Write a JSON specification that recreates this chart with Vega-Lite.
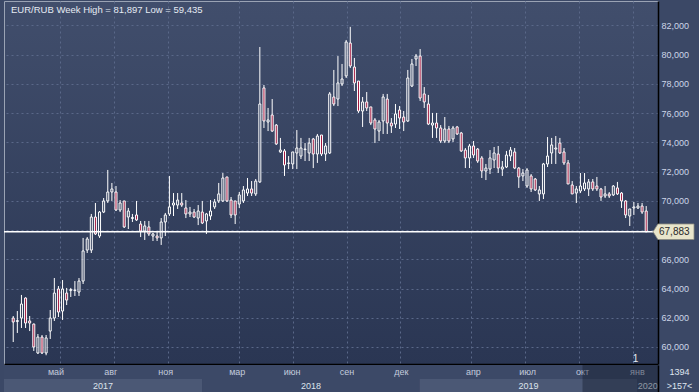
{
  "$schema": "https://vega.github.io/schema/vega-lite/v6.json",
  "background": "#3b4866",
  "padding": {"left": 2, "top": 0, "right": 2, "bottom": 0},
  "spacing": 0,
  "config": {"font": "Liberation Sans", "view": {"stroke": null}},
  "datasets": {
    "candles": [
      {"d":"2017-02-10","o":61.98,"h":62.12,"l":60.34,"c":61.71},
      {"d":"2017-02-17","o":61.74,"h":62.46,"l":60.96,"c":61.81},
      {"d":"2017-02-24","o":61.98,"h":63.56,"l":61.30,"c":62.94},
      {"d":"2017-03-03","o":63.35,"h":63.40,"l":61.30,"c":61.64},
      {"d":"2017-03-10","o":61.78,"h":62.12,"l":61.09,"c":61.64},
      {"d":"2017-03-17","o":61.57,"h":61.60,"l":59.73,"c":60.00},
      {"d":"2017-03-24","o":59.59,"h":60.89,"l":59.52,"c":60.68},
      {"d":"2017-03-31","o":60.68,"h":60.82,"l":59.52,"c":59.59},
      {"d":"2017-04-07","o":59.59,"h":60.82,"l":59.435,"c":60.62},
      {"d":"2017-04-14","o":61.09,"h":62.53,"l":60.55,"c":61.98},
      {"d":"2017-04-21","o":61.98,"h":64.72,"l":61.78,"c":63.69},
      {"d":"2017-04-28","o":63.97,"h":64.17,"l":62.05,"c":62.39},
      {"d":"2017-05-05","o":62.46,"h":64.58,"l":61.85,"c":63.97},
      {"d":"2017-05-12","o":63.69,"h":64.04,"l":62.87,"c":63.21},
      {"d":"2017-05-19","o":63.86,"h":64.04,"l":63.42,"c":63.93},
      {"d":"2017-05-26","o":63.86,"h":64.51,"l":63.49,"c":63.90},
      {"d":"2017-06-02","o":63.76,"h":64.72,"l":63.49,"c":64.51},
      {"d":"2017-06-09","o":64.51,"h":67.46,"l":64.31,"c":66.57},
      {"d":"2017-06-16","o":66.63,"h":67.52,"l":66.43,"c":67.39},
      {"d":"2017-06-23","o":66.63,"h":69.10,"l":66.43,"c":68.89},
      {"d":"2017-06-30","o":68.89,"h":69.85,"l":67.66,"c":67.73},
      {"d":"2017-07-07","o":67.59,"h":69.30,"l":67.46,"c":69.23},
      {"d":"2017-07-14","o":69.23,"h":70.19,"l":69.16,"c":69.99},
      {"d":"2017-07-21","o":69.99,"h":72.11,"l":69.85,"c":70.60},
      {"d":"2017-07-28","o":70.60,"h":71.22,"l":69.99,"c":70.81},
      {"d":"2017-08-04","o":70.60,"h":71.01,"l":69.30,"c":69.37},
      {"d":"2017-08-11","o":69.37,"h":70.05,"l":69.23,"c":69.85},
      {"d":"2017-08-18","o":69.99,"h":69.99,"l":68.14,"c":68.21},
      {"d":"2017-08-25","o":68.89,"h":69.51,"l":68.07,"c":69.30},
      {"d":"2017-09-01","o":68.79,"h":69.10,"l":68.55,"c":68.86},
      {"d":"2017-09-08","o":69.03,"h":69.99,"l":68.62,"c":68.69},
      {"d":"2017-09-15","o":68.41,"h":68.62,"l":67.52,"c":67.93},
      {"d":"2017-09-22","o":67.93,"h":68.62,"l":67.32,"c":68.28},
      {"d":"2017-09-29","o":68.21,"h":68.62,"l":67.59,"c":67.73},
      {"d":"2017-10-06","o":67.59,"h":67.80,"l":67.25,"c":67.73},
      {"d":"2017-10-13","o":67.59,"h":67.93,"l":67.25,"c":67.46},
      {"d":"2017-10-20","o":67.46,"h":68.82,"l":66.98,"c":68.55},
      {"d":"2017-10-27","o":68.55,"h":69.17,"l":67.59,"c":69.03},
      {"d":"2017-11-03","o":69.10,"h":71.70,"l":68.96,"c":69.58},
      {"d":"2017-11-10","o":69.71,"h":70.53,"l":68.96,"c":69.85},
      {"d":"2017-11-17","o":69.71,"h":70.53,"l":69.44,"c":70.05},
      {"d":"2017-11-24","o":69.85,"h":70.53,"l":69.58,"c":69.71},
      {"d":"2017-12-01","o":69.51,"h":70.05,"l":68.82,"c":69.10},
      {"d":"2017-12-08","o":69.10,"h":69.58,"l":68.89,"c":69.23},
      {"d":"2017-12-15","o":69.23,"h":69.44,"l":68.82,"c":68.89},
      {"d":"2017-12-22","o":68.82,"h":69.71,"l":68.34,"c":69.30},
      {"d":"2017-12-29","o":69.23,"h":69.99,"l":68.41,"c":68.48},
      {"d":"2018-01-05","o":68.62,"h":69.17,"l":67.73,"c":69.10},
      {"d":"2018-01-12","o":68.96,"h":70.05,"l":68.69,"c":69.30},
      {"d":"2018-01-19","o":69.58,"h":70.12,"l":69.44,"c":69.92},
      {"d":"2018-01-26","o":69.99,"h":71.22,"l":69.85,"c":70.47},
      {"d":"2018-02-02","o":69.99,"h":71.90,"l":69.92,"c":71.56},
      {"d":"2018-02-09","o":71.63,"h":71.63,"l":69.92,"c":69.99},
      {"d":"2018-02-16","o":70.05,"h":70.26,"l":68.82,"c":69.03},
      {"d":"2018-02-23","o":69.99,"h":69.99,"l":68.41,"c":69.03},
      {"d":"2018-03-02","o":69.78,"h":70.60,"l":69.51,"c":70.40},
      {"d":"2018-03-09","o":69.99,"h":71.01,"l":69.85,"c":70.74},
      {"d":"2018-03-16","o":70.53,"h":71.56,"l":70.33,"c":70.81},
      {"d":"2018-03-23","o":70.81,"h":71.35,"l":70.33,"c":70.53},
      {"d":"2018-03-30","o":70.47,"h":71.49,"l":70.33,"c":71.35},
      {"d":"2018-04-06","o":71.29,"h":80.52,"l":71.22,"c":76.62},
      {"d":"2018-04-13","o":77.72,"h":77.92,"l":74.98,"c":75.46},
      {"d":"2018-04-20","o":75.39,"h":76.35,"l":74.77,"c":75.53},
      {"d":"2018-04-27","o":75.87,"h":76.96,"l":74.71,"c":74.77},
      {"d":"2018-05-04","o":75.18,"h":75.25,"l":73.82,"c":73.89},
      {"d":"2018-05-11","o":73.34,"h":74.30,"l":73.27,"c":73.47},
      {"d":"2018-05-18","o":73.41,"h":73.54,"l":71.70,"c":72.45},
      {"d":"2018-05-25","o":72.55,"h":73.06,"l":72.17,"c":72.59},
      {"d":"2018-06-01","o":72.52,"h":73.34,"l":72.17,"c":73.34},
      {"d":"2018-06-08","o":73.27,"h":74.84,"l":72.17,"c":73.61},
      {"d":"2018-06-15","o":73.06,"h":74.30,"l":72.86,"c":73.61},
      {"d":"2018-06-22","o":73.50,"h":73.95,"l":72.72,"c":73.54},
      {"d":"2018-06-29","o":73.27,"h":74.30,"l":72.72,"c":73.95},
      {"d":"2018-07-06","o":74.23,"h":74.30,"l":72.24,"c":73.20},
      {"d":"2018-07-13","o":73.20,"h":74.57,"l":72.59,"c":74.43},
      {"d":"2018-07-20","o":74.50,"h":74.50,"l":73.06,"c":73.20},
      {"d":"2018-07-27","o":73.20,"h":73.95,"l":72.72,"c":73.75},
      {"d":"2018-08-03","o":73.27,"h":77.44,"l":73.20,"c":77.31},
      {"d":"2018-08-10","o":77.10,"h":78.95,"l":76.48,"c":76.62},
      {"d":"2018-08-17","o":76.96,"h":79.90,"l":76.48,"c":78.06},
      {"d":"2018-08-24","o":77.99,"h":79.36,"l":77.85,"c":78.33},
      {"d":"2018-08-31","o":78.54,"h":81.00,"l":78.40,"c":80.86},
      {"d":"2018-09-07","o":80.79,"h":81.897,"l":79.08,"c":79.22},
      {"d":"2018-09-14","o":79.15,"h":79.77,"l":77.51,"c":78.06},
      {"d":"2018-09-21","o":78.19,"h":78.19,"l":76.01,"c":76.14},
      {"d":"2018-09-28","o":76.14,"h":77.10,"l":75.05,"c":76.76},
      {"d":"2018-10-05","o":76.76,"h":77.44,"l":76.14,"c":76.35},
      {"d":"2018-10-12","o":76.42,"h":76.42,"l":75.18,"c":75.32},
      {"d":"2018-10-19","o":75.53,"h":75.66,"l":73.95,"c":74.91},
      {"d":"2018-10-26","o":74.77,"h":75.53,"l":74.09,"c":75.39},
      {"d":"2018-11-02","o":75.46,"h":77.31,"l":74.57,"c":77.10},
      {"d":"2018-11-09","o":76.96,"h":77.31,"l":74.57,"c":75.32},
      {"d":"2018-11-16","o":75.32,"h":75.66,"l":74.64,"c":75.12},
      {"d":"2018-11-23","o":75.25,"h":76.62,"l":74.98,"c":75.94},
      {"d":"2018-11-30","o":76.21,"h":76.48,"l":74.91,"c":75.66},
      {"d":"2018-12-07","o":75.73,"h":76.14,"l":74.77,"c":75.39},
      {"d":"2018-12-14","o":75.46,"h":78.95,"l":75.39,"c":78.40},
      {"d":"2018-12-21","o":77.85,"h":79.70,"l":77.78,"c":79.36},
      {"d":"2018-12-28","o":79.70,"h":80.04,"l":79.22,"c":79.90},
      {"d":"2019-01-04","o":79.90,"h":80.38,"l":76.83,"c":77.03},
      {"d":"2019-01-11","o":77.31,"h":77.78,"l":76.35,"c":76.76},
      {"d":"2019-01-18","o":76.62,"h":77.24,"l":75.18,"c":75.25},
      {"d":"2019-01-25","o":75.18,"h":76.01,"l":74.30,"c":75.32},
      {"d":"2019-02-01","o":75.32,"h":76.01,"l":74.30,"c":74.98},
      {"d":"2019-02-08","o":74.98,"h":75.18,"l":73.95,"c":74.09},
      {"d":"2019-02-15","o":74.09,"h":75.73,"l":73.95,"c":74.91},
      {"d":"2019-02-22","o":74.91,"h":75.12,"l":73.95,"c":74.09},
      {"d":"2019-03-01","o":74.23,"h":75.12,"l":74.02,"c":74.98},
      {"d":"2019-03-08","o":75.05,"h":75.12,"l":74.50,"c":74.57},
      {"d":"2019-03-15","o":74.64,"h":74.71,"l":73.34,"c":73.41},
      {"d":"2019-03-22","o":73.47,"h":73.61,"l":72.24,"c":72.93},
      {"d":"2019-03-29","o":72.93,"h":73.89,"l":72.24,"c":73.75},
      {"d":"2019-04-05","o":73.75,"h":74.09,"l":72.93,"c":73.13},
      {"d":"2019-04-12","o":73.54,"h":73.61,"l":72.59,"c":72.72},
      {"d":"2019-04-19","o":72.93,"h":73.06,"l":71.56,"c":72.04},
      {"d":"2019-04-26","o":72.04,"h":72.52,"l":71.42,"c":72.24},
      {"d":"2019-05-03","o":72.17,"h":73.47,"l":71.83,"c":72.93},
      {"d":"2019-05-10","o":72.79,"h":73.68,"l":72.24,"c":73.27},
      {"d":"2019-05-17","o":73.20,"h":73.75,"l":71.90,"c":72.24},
      {"d":"2019-05-24","o":72.17,"h":72.72,"l":71.70,"c":72.31},
      {"d":"2019-05-31","o":72.31,"h":73.41,"l":72.24,"c":73.13},
      {"d":"2019-06-07","o":73.06,"h":73.68,"l":72.72,"c":73.47},
      {"d":"2019-06-14","o":73.34,"h":73.61,"l":72.17,"c":72.24},
      {"d":"2019-06-21","o":72.24,"h":72.31,"l":70.88,"c":71.63},
      {"d":"2019-06-28","o":71.70,"h":72.17,"l":71.35,"c":71.90},
      {"d":"2019-07-05","o":71.01,"h":72.24,"l":70.88,"c":72.11},
      {"d":"2019-07-12","o":71.70,"h":71.83,"l":70.60,"c":70.81},
      {"d":"2019-07-19","o":71.49,"h":71.56,"l":70.67,"c":70.74},
      {"d":"2019-07-26","o":70.47,"h":71.01,"l":69.99,"c":70.74},
      {"d":"2019-08-02","o":70.47,"h":72.59,"l":70.12,"c":72.52},
      {"d":"2019-08-09","o":72.52,"h":74.36,"l":72.31,"c":73.06},
      {"d":"2019-08-16","o":73.27,"h":74.30,"l":72.52,"c":73.82},
      {"d":"2019-08-23","o":73.54,"h":74.43,"l":72.52,"c":73.61},
      {"d":"2019-08-30","o":73.95,"h":74.30,"l":73.20,"c":73.27},
      {"d":"2019-09-06","o":73.34,"h":73.61,"l":72.45,"c":72.59},
      {"d":"2019-09-13","o":72.59,"h":72.79,"l":71.15,"c":71.15},
      {"d":"2019-09-20","o":71.08,"h":71.35,"l":70.47,"c":70.47},
      {"d":"2019-09-27","o":70.53,"h":71.01,"l":69.85,"c":70.81},
      {"d":"2019-10-04","o":70.67,"h":71.90,"l":70.53,"c":71.01},
      {"d":"2019-10-11","o":70.81,"h":71.90,"l":70.67,"c":71.22},
      {"d":"2019-10-18","o":70.81,"h":71.49,"l":70.33,"c":71.29},
      {"d":"2019-10-25","o":71.29,"h":71.49,"l":70.67,"c":70.81},
      {"d":"2019-11-01","o":71.01,"h":71.63,"l":70.67,"c":70.81},
      {"d":"2019-11-08","o":70.81,"h":70.88,"l":69.99,"c":70.26},
      {"d":"2019-11-15","o":70.33,"h":71.01,"l":70.19,"c":70.47},
      {"d":"2019-11-22","o":70.47,"h":70.60,"l":70.19,"c":70.33},
      {"d":"2019-11-29","o":70.40,"h":71.08,"l":70.33,"c":71.01},
      {"d":"2019-12-06","o":70.88,"h":71.29,"l":70.40,"c":70.47},
      {"d":"2019-12-13","o":70.53,"h":70.60,"l":69.51,"c":69.99},
      {"d":"2019-12-20","o":69.99,"h":70.05,"l":68.82,"c":69.03},
      {"d":"2019-12-27","o":68.96,"h":69.44,"l":68.28,"c":69.44},
      {"d":"2020-01-03","o":69.51,"h":69.92,"l":69.03,"c":69.58},
      {"d":"2020-01-10","o":69.51,"h":69.85,"l":69.44,"c":69.64},
      {"d":"2020-01-17","o":69.64,"h":69.85,"l":69.10,"c":69.23},
      {"d":"2020-01-24","o":69.30,"h":69.64,"l":67.85,"c":67.883}
    ],
    "months": [
      {"date":"2017-05-01","label":"май"},
      {"date":"2017-08-01","label":"авг"},
      {"date":"2017-11-01","label":"ноя"},
      {"date":"2018-03-01","label":"мар"},
      {"date":"2018-06-01","label":"июн"},
      {"date":"2018-09-01","label":"сен"},
      {"date":"2018-12-01","label":"дек"},
      {"date":"2019-04-01","label":"апр"},
      {"date":"2019-07-01","label":"июл"},
      {"date":"2019-10-01","label":"окт"},
      {"date":"2020-01-01","label":"янв"}
    ],
    "years": [
      {"label":"2017","start":"2017-01-01","end":"2018-01-01"},
      {"label":"2018","start":"2018-01-01","end":"2019-01-01"},
      {"label":"2019","start":"2019-01-01","end":"2020-01-01"},
      {"label":"2020","start":"2020-01-01","end":"2021-01-01"}
    ],
    "overlayRows": [{"r": "m"}, {"r": "y"}]
  },
  "vconcat": [
    {
      "width": 654,
      "height": 363,
      "view": {
        "fill": {"gradient": "linear", "x1": 0, "y1": 0, "x2": 0, "y2": 1,
          "stops": [{"offset": 0, "color": "#414e6c"}, {"offset": 1, "color": "#2a3653"}]},
        "stroke": "#9aa3b4",
        "strokeWidth": 1
      },
      "data": {"name": "candles"},
      "layer": [
        {
          "transform": [{"calculate": "max(datum.o, datum.c)", "as": "top"}],
          "mark": {"type": "rule", "color": "#ffffff", "strokeWidth": 1},
          "encoding": {
            "x": {"field": "d", "type": "temporal",
              "scale": {"type": "utc", "nice": false, "domain": [{"year": 2017, "month": 2, "date": 2, "hours": 19, "utc": true}, {"year": 2020, "month": 2, "date": 4, "hours": 14, "utc": true}]},
              "axis": {"values": [
                {"year": 2017, "month": 5, "date": 1, "utc": true},
                {"year": 2017, "month": 8, "date": 1, "utc": true},
                {"year": 2017, "month": 11, "date": 1, "utc": true},
                {"year": 2018, "month": 3, "date": 1, "utc": true},
                {"year": 2018, "month": 6, "date": 1, "utc": true},
                {"year": 2018, "month": 9, "date": 1, "utc": true},
                {"year": 2018, "month": 12, "date": 1, "utc": true},
                {"year": 2019, "month": 4, "date": 1, "utc": true},
                {"year": 2019, "month": 7, "date": 1, "utc": true},
                {"year": 2019, "month": 10, "date": 1, "utc": true},
                {"year": 2020, "month": 1, "date": 1, "utc": true}],
                "tickCount": 20,
                "labels": false, "ticks": false, "domain": true, "domainColor": "#000000", "domainWidth": 1.5,
                "grid": true, "gridColor": "#5a6889", "gridDash": [2, 3], "gridWidth": 1, "title": null}},
            "y": {"field": "h", "type": "quantitative",
              "scale": {"domain": [58.837, 83.666], "nice": false, "zero": false},
              "axis": {"orient": "right", "values": [60, 62, 64, 66, 68, 70, 72, 74, 76, 78, 80, 82],
                "tickCount": 20,
                "labelExpr": "datum.value == 68 ? '' : replace(format(datum.value, '.3f'), '.', ',')",
                "labelOverlap": false,
                "grid": true, "gridColor": "#5a6889", "gridDash": [2, 3], "gridWidth": 1,
                "ticks": false, "domain": true, "domainColor": "#000000", "domainWidth": 1.5,
                "labelColor": "#cdd6e8", "labelFontSize": 9, "labelFont": "Liberation Sans", "labelPadding": 3, "title": null}},
            "y2": {"field": "top"}
          }
        },
        {
          "transform": [{"calculate": "min(datum.o, datum.c)", "as": "bot"}],
          "mark": {"type": "rule", "color": "#ffffff", "strokeWidth": 1},
          "encoding": {
            "x": {"field": "d", "type": "temporal"},
            "y": {"field": "bot", "type": "quantitative"},
            "y2": {"field": "l"}
          }
        },
        {
          "mark": {"type": "bar", "width": 2, "stroke": "#ffffff", "strokeWidth": 1},
          "encoding": {
            "x": {"field": "d", "type": "temporal"},
            "y": {"field": "o", "type": "quantitative"},
            "y2": {"field": "c"},
            "fill": {"condition": {"test": "datum.c < datum.o", "value": "#a3173f"}, "value": "transparent"}
          }
        },
        {
          "data": {"values": [{}]},
          "mark": {"type": "rule", "color": "#ffffff", "strokeWidth": 1.5},
          "encoding": {"y": {"datum": 67.883, "type": "quantitative"}}
        },
        {
          "data": {"values": [{}]},
          "mark": {"type": "point", "shape": "M0,0L0.12,-0.19L1,-0.19L1,0.19L0.12,0.19Z", "size": 6724, "filled": true, "fill": "#e8e5cb", "stroke": "#8a8a80", "strokeWidth": 0.8, "opacity": 1},
          "encoding": {
            "x": {"datum": {"year": 2020, "month": 2, "date": 4, "hours": 14, "utc": true}, "type": "temporal"},
            "y": {"datum": 67.883, "type": "quantitative"}
          }
        },
        {
          "data": {"values": [{}]},
          "mark": {"type": "text", "align": "left", "baseline": "middle", "dx": 6, "fontSize": 10, "color": "#2a2a2a", "font": "Liberation Sans"},
          "encoding": {
            "x": {"datum": {"year": 2020, "month": 2, "date": 4, "hours": 14, "utc": true}, "type": "temporal"},
            "y": {"datum": 67.883, "type": "quantitative"},
            "text": {"value": "67,883"}
          }
        },
        {
          "data": {"values": [{}]},
          "mark": {"type": "text", "align": "center", "baseline": "middle", "fontSize": 10, "color": "#e6ebf3", "font": "Liberation Sans"},
          "encoding": {
            "x": {"datum": {"year": 2020, "month": 1, "date": 6, "utc": true}, "type": "temporal"},
            "y": {"datum": 59.2, "type": "quantitative"},
            "text": {"value": "1"}
          }
        },
        {
          "transform": [
            {"aggregate": [{"op": "max", "field": "h", "as": "hi"}, {"op": "min", "field": "l", "as": "lo"}]},
            {"calculate": "'EUR/RUB Week High = ' + replace(format(datum.hi, '.3f'), '.', ',') + ' Low = ' + replace(format(datum.lo, '.3f'), '.', ',')", "as": "t"}
          ],
          "mark": {"type": "text", "align": "left", "baseline": "middle", "dx": 2, "dy": 9, "fontSize": 9.5, "color": "#e6ebf3", "font": "Liberation Sans"},
          "encoding": {
            "x": {"datum": {"year": 2017, "month": 2, "date": 2, "hours": 19, "utc": true}, "type": "temporal"},
            "y": {"datum": 83.666, "type": "quantitative"},
            "text": {"field": "t", "type": "nominal"}
          }
        }
      ]
    },
    {
      "width": 654,
      "height": 28,
      "view": {"fill": "#3c4967", "stroke": null},
      "layer": [
        {
          "data": {"name": "years"},
          "mark": {"type": "rect", "clip": true},
          "encoding": {
            "x": {"field": "start", "type": "temporal",
              "scale": {"type": "utc", "nice": false, "domain": [{"year": 2017, "month": 2, "date": 2, "hours": 19, "utc": true}, {"year": 2020, "month": 2, "date": 4, "hours": 14, "utc": true}]},
              "axis": null},
            "x2": {"field": "end"},
            "y": {"datum": "y", "type": "nominal",
              "scale": {"domain": ["m", "y"], "paddingInner": 0, "paddingOuter": 0},
              "axis": {"orient": "right", "labelExpr": "datum.value == 'm' ? '1394' : '>157<'",
                "ticks": false, "domain": true, "domainColor": "#000000", "domainWidth": 1.5,
                "labelColor": "#dfe5ef", "labelFontSize": 9, "labelFont": "Liberation Sans", "labelAlign": "center", "labelPadding": 21, "title": null}},
            "color": {"field": "label", "type": "nominal",
              "scale": {"domain": ["2017", "2018", "2019", "2020"], "range": ["#4b5875", "#3c4967", "#4b5875", "#3c4967"]},
              "legend": null}
          }
        },
        {
          "data": {"name": "months"},
          "mark": {"type": "text", "fontSize": 9, "color": "#c3cbdc", "font": "Liberation Sans", "baseline": "middle"},
          "encoding": {
            "x": {"field": "date", "type": "temporal"},
            "y": {"datum": "m", "type": "nominal"},
            "text": {"field": "label"}
          }
        },
        {
          "data": {"name": "years"},
          "transform": [{"calculate": "(max(toDate(datum.start), utc(2017, 1, 2, 19)) + min(toDate(datum.end), utc(2020, 1, 4, 14))) / 2", "as": "mid"}],
          "mark": {"type": "text", "clip": true, "fontSize": 9, "color": "#dde3ec", "font": "Liberation Sans", "baseline": "middle"},
          "encoding": {
            "x": {"field": "mid", "type": "temporal"},
            "y": {"datum": "y", "type": "nominal"},
            "text": {"field": "label"}
          }
        },
        {
          "data": {"name": "overlayRows"},
          "mark": {"type": "rect", "color": "#0c1424", "opacity": 0.38},
          "encoding": {
            "x": {"datum": {"year": 2019, "month": 10, "date": 1, "utc": true}, "type": "temporal"},
            "x2": {"datum": {"year": 2020, "month": 2, "date": 4, "hours": 14, "utc": true}},
            "y": {"field": "r", "type": "nominal"}
          }
        }
      ]
    }
  ]
}
